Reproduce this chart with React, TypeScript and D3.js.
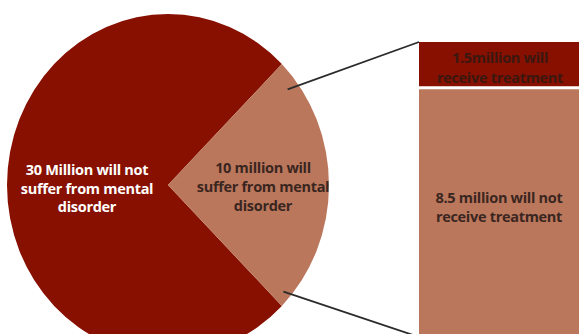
import React from "react";
import * as d3 from "d3";

const pieLabels = [
  ["30 Million will not", "suffer from mental", "disorder"],
  ["10 million will", "suffer from mental", "disorder"],
];
const pieValues = [30, 10];
const barLabels = [
  ["1.5million will", "receive treatment"],
  ["8.5 million will not", "receive treatment"],
];
const barValues = [1.5, 8.5];

const DARK = "#871000";
const LIGHT = "#bb775c";

export default function App() {
  const W = 579, H = 334;
  const cx = 168, cy = 185, r = 161, sy = 171 / 161;
  const pie = d3.pie<number>().sort(null).startAngle((3 * Math.PI) / 4).endAngle((3 * Math.PI) / 4 + 2 * Math.PI);
  const arcs = pie(pieValues);
  const arc = d3.arc<d3.PieArcDatum<number>>().innerRadius(0).outerRadius(r);
  const colors = [DARK, LIGHT];

  const barX = 419, barW = 170;
  const total = d3.sum(barValues);
  const y = d3.scaleLinear().domain([0, total]).range([42, 42 + 295]);
  const cum = d3.cumsum(barValues);
  const starts = [0, ...Array.from(cum).slice(0, -1)];

  const lightArc = arcs[1];
  const pt = (ang: number, k: number) => [cx + Math.sin(ang) * r * k, cy - Math.cos(ang) * r * k * sy];
  const p1 = pt(lightArc.startAngle + 0.14, 0.93);
  const p2 = pt(lightArc.endAngle - 0.07, 0.95);

  const textLight = "#ffffff";
  const textDark = "#3a2620";
  const font = "'Open Sans', 'DejaVu Sans', sans-serif";

  return (
    <svg width={W} height={H} style={{ position: "absolute", left: 0, top: 0, background: "#fff" }}>
      <g transform={`translate(${cx},${cy}) scale(1,${sy})`}>
        {arcs.map((a, i) => (
          <path key={i} d={arc(a) || ""} fill={colors[i]} />
        ))}
      </g>
      {barValues.map((v, i) => (
        <rect
          key={i}
          x={barX}
          y={y(starts[i]) + (i > 0 ? 3 : 0)}
          width={barW}
          height={y(starts[i] + v) - y(starts[i]) - (i > 0 ? 3 : 0)}
          fill={colors[i]}
        />
      ))}
      <line x1={p1[0]} y1={p1[1]} x2={barX} y2={y(0)} stroke="#2b2b2b" strokeWidth={1.8} />
      <line x1={p2[0]} y1={p2[1]} x2={barX} y2={y(total)} stroke="#2b2b2b" strokeWidth={1.8} />

      <g fontFamily={font} fontWeight={700} fontSize={14.5} textAnchor="middle" letterSpacing={-0.3}>
        {pieLabels[0].map((t, j) => (
          <text key={j} x={87} y={175 + j * 18.5} fill={textLight}>{t}</text>
        ))}
        {pieLabels[1].map((t, j) => (
          <text key={j} x={263} y={173 + j * 19} fill={textDark}>{t}</text>
        ))}
        {barLabels[0].map((t, j) => (
          <text key={j} x={500} y={63 + j * 20} fill="#3a1810">{t}</text>
        ))}
        {barLabels[1].map((t, j) => (
          <text key={j} x={499} y={203 + j * 19} fill={textDark}>{t}</text>
        ))}
      </g>
    </svg>
  );
}
